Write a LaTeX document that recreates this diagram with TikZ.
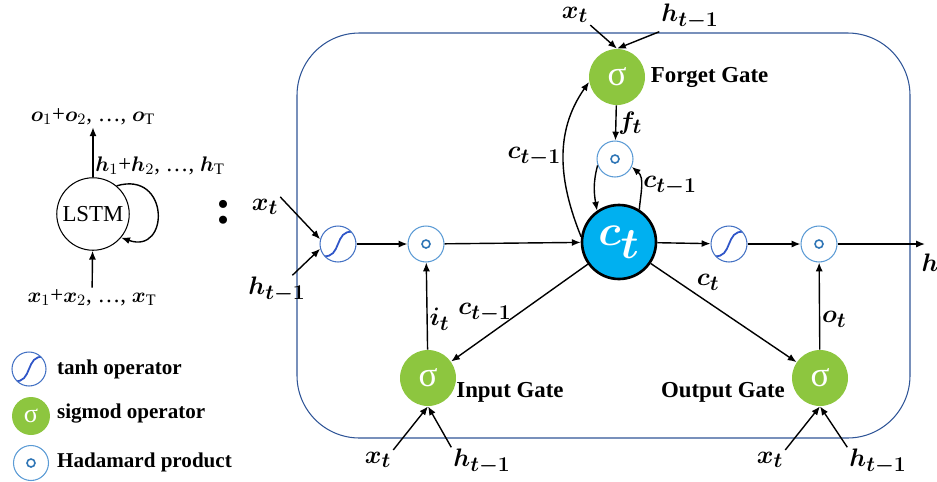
\documentclass[tikz,border=0pt]{standalone}
\usepackage{fontspec}
\setmainfont{Liberation Serif}
\usepackage{bm}
\DeclareMathSizes{15}{15}{12}{10}
\DeclareMathSizes{30}{30}{25}{20}
\usetikzlibrary{arrows.meta,positioning}
\definecolor{siggreen}{RGB}{141,198,63}
\definecolor{cellblue}{RGB}{0,176,240}
\definecolor{hadblue}{RGB}{91,155,213}
\definecolor{hadin}{RGB}{46,117,182}
\definecolor{tanhblue}{RGB}{68,114,196}
\definecolor{scurve}{RGB}{47,85,200}
\definecolor{frameblue}{RGB}{47,85,151}
\tikzset{
  had/.style={circle, draw=hadblue, line width=0.6pt, fill=white, minimum size=0.72cm, inner sep=0pt,
    path picture={\draw[hadin, line width=0.9pt] (path picture bounding box.center) circle (0.08cm);}},
  tanhop/.style={circle, draw=tanhblue, line width=0.6pt, fill=white, minimum size=0.72cm, inner sep=0pt,
    path picture={\draw[scurve, line width=1pt, shift={(path picture bounding box.center)}]
      (-0.3cm,-0.24cm) .. controls (0.08cm,-0.3cm) and (-0.08cm,0.3cm) .. (0.3cm,0.24cm);}},
  sig/.style={circle, fill=siggreen, minimum size=1.12cm, inner sep=0pt, text=white,
    font=\fontsize{20}{20}\selectfont},
  cellnode/.style={circle, fill=cellblue, draw=black, line width=1.5pt, minimum size=1.48cm,
    inner sep=0pt, text=white, font=\fontsize{30}{30}\selectfont},
  lstm/.style={circle, draw, line width=0.6pt, minimum size=1.45cm, inner sep=0pt,
    font=\fontsize{13}{15}\selectfont},
  lbl/.style={font=\fontsize{15}{17}\selectfont, inner sep=1pt},
  small/.style={font=\fontsize{13}{15}\selectfont, inner sep=1pt},
  gatetxt/.style={font=\fontsize{13}{15}\selectfont\bfseries, inner sep=1pt},
  keytxt/.style={font=\fontsize{12}{14}\selectfont\bfseries, anchor=west, inner sep=1pt},
  arr/.style={->, line width=0.8pt}
}
\begin{document}
\begin{tikzpicture}[x=0.02cm,y=-0.02cm,>={Latex[length=5pt,width=4pt]}]
    \useasboundingbox (0,0) rectangle (937,481);
    \draw[frameblue, line width=0.6pt, rounded corners=1.25cm] (297,33) rectangle (910,438);

    \node[lstm] (lstm) at (93,214) {LSTM};
    \node[small] (xin) at (92,298) {$\bm{x}_1$+$\bm{x}_2$, \dots, $\bm{x}_{\mathrm{T}}$};
    \node[small] (oout) at (93,117) {$\bm{o}_1$+$\bm{o}_2$, \dots, $\bm{o}_{\mathrm{T}}$};
    \node[small] (hloop) at (160,166) {$\bm{h}_1$+$\bm{h}_2$, \dots, $\bm{h}_{\mathrm{T}}$};
    \node[font=\fontsize{28}{28}\selectfont\bfseries] (colon) at (224,212) {:};

    \draw[arr] (xin) -- (lstm);
    \draw[arr] (lstm) -- (oout);
    \draw[arr] (lstm.50) .. controls (170,170) and (170,255) .. (lstm.-40);

    \node[tanhop] (tanhA) at (338,244) {};
    \node[had] (hadA) at (426,244) {};
    \node[cellnode] (cell) at (619,242) {$\bm{c}_{\bm{t}}$};
    \node[tanhop] (tanhB) at (729,244) {};
    \node[had] (hadB) at (819,244) {};
    \coordinate (hout) at (925,244);
    \node[lbl] (hlbl) at (930,263) {$\bm{h}$};

    \node[sig] (forget) at (617,77) {σ};
    \node[had] (hadF) at (615,159) {};
    \node[sig] (input) at (428,378) {σ};
    \node[sig] (output) at (820,378) {σ};

    \node[gatetxt, right=2pt of forget] (fgtxt) {Forget Gate};
    \node[gatetxt] (igtxt) at (510,392) {Input Gate};
    \node[gatetxt] (ogtxt) at (723,392) {Output Gate};

    \node[lbl] (xA) at (265,207) {$\bm{x_t}$};
    \node[lbl] (hA) at (277,290) {$\bm{h_{t-1}}$};
    \node[lbl] (xF) at (575,15) {$\bm{x_t}$};
    \node[lbl] (hF) at (690,17) {$\bm{h_{t-1}}$};
    \node[lbl] (xI) at (378,460) {$\bm{x_t}$};
    \node[lbl] (hI) at (482,462) {$\bm{h_{t-1}}$};
    \node[lbl] (xO) at (770,460) {$\bm{x_t}$};
    \node[lbl] (hO) at (878,462) {$\bm{h_{t-1}}$};

    \draw[arr] (xA.north east) -- (tanhA.165);
    \draw[arr] (hA) -- (tanhA.195);
    \draw[arr] (tanhA) -- (hadA);
    \draw[arr] (hadA) -- (cell);
    \draw[arr] (cell) -- (tanhB);
    \draw[arr] (tanhB) -- (hadB);
    \draw[arr] (hadB) -- (hout);

    \draw[arr] (xF.south east) -- (forget.north);
    \draw[arr] (hF.south west) -- (forget.north);
    \draw[arr] (forget) -- node[lbl,right] (ft) {$\bm{f_t}$} (hadF);
    \draw[arr] (hadF.200) to[out=255,in=100] (cell.125);
    \draw[arr] (cell.58) to[out=85,in=-40] node[lbl,right] (cF) {$\bm{c_{t-1}}$} (hadF.-25);
    \draw[arr] (cell.172) to[out=112,in=235] node[lbl,left] (cG) {$\bm{c_{t-1}}$} (forget.190);

    \draw[arr] (cell) -- node[lbl,pos=0.5,left=3pt] (cI) {$\bm{c_{t-1}}$} (input);
    \draw[arr] (cell) -- node[lbl,pos=0.3,above right] (cO) {$\bm{c_t}$} (output);
    \draw[arr] (input) -- node[lbl,pos=0.35,right] (it) {$\bm{i_t}$} (hadA);
    \draw[arr] (output) -- node[lbl,pos=0.35,right] (ot) {$\bm{o_t}$} (hadB);

    \draw[arr] (xI.north east) -- (input.south);
    \draw[arr] (hI.north west) -- (input.south);
    \draw[arr] (xO.north east) -- (output.south);
    \draw[arr] (hO.north west) -- (output.south);

    \node[tanhop, minimum size=0.68cm] (tanhkey) at (29,369) {};
    \node[keytxt] (tanhtxt) at (55,369) {tanh operator};
    \node[sig, minimum size=0.76cm, font=\fontsize{15}{15}\selectfont] (sigkey) at (31,416) {σ};
    \node[keytxt] (sigtxt) at (55,414) {sigmod operator};
    \node[had, minimum size=0.7cm] (hadkey) at (31,463) {};
    \node[keytxt] (hadtxt) at (55,462) {Hadamard product};
\end{tikzpicture}
\end{document}
